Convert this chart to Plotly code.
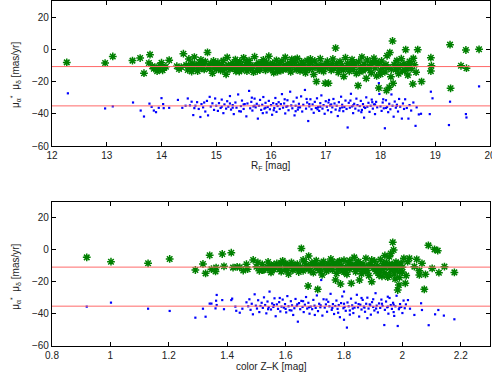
import plotly.graph_objects as go

# ---------------- data ----------------
# Top panel: proper motions vs R_F magnitude
top_green = [
    (12.27,-8.1),(12.97,-8.5),(13.11,-4.4),(13.47,-7.0),(13.61,-5.4),(13.68,-14.8),(13.79,-3.3),(13.77,-8.5),
    (13.83,-10.5),(13.86,-12.0),(13.9,-11.2),(13.92,-13.5),(13.95,-12.6),(13.97,-10.0),(14.0,-8.3),(14.02,-13.0),
    (14.05,-11.5),(14.08,-10.8),(14.14,-6.7),(14.28,-10.5),(14.32,-12.2),(14.36,-11.0),(14.4,-2.7),(14.45,-9.8),
    (14.48,-12.8),(14.5,-6.0),(14.53,-10.2),(14.56,-8.8),(14.58,-11.8),(14.6,-4.8),(14.63,-9.5),(14.66,-13.5),
    (14.68,-10.0),(14.7,-8.2),(14.73,-11.6),(14.76,-9.0),(14.78,-12.5),(14.8,-7.6),(14.84,-1.9),(14.86,-10.4),
    (14.88,-12.0),(14.9,-8.8),(14.93,-14.8),(14.96,-10.8),(14.98,-9.3),(15.0,-12.3),(15.03,-8.0),(15.05,-10.6),
    (15.08,-13.0),(15.1,-9.2),(15.13,-7.0),(15.15,-11.5),(15.18,-15.5),(15.2,-5.0),(15.22,-9.8),(15.25,-12.4),
    (15.28,-10.0),(15.3,-8.5),(15.33,-11.8),(15.36,-13.6),(15.38,-9.0),(15.4,-11.0),(15.43,-7.5),(15.46,-12.8),
    (15.48,-10.2),(15.5,-5.3),(15.53,-11.4),(15.56,-13.5),(15.58,-9.6),(15.6,-7.0),(15.63,-12.0),(15.66,-10.5),
    (15.68,-14.2),(15.7,-4.6),(15.73,-9.8),(15.76,-11.9),(15.78,-8.4),(15.8,-12.8),(15.83,-10.6),(15.86,-6.5),
    (15.88,-9.4),(15.9,-13.0),(15.93,-11.2),(15.96,-4.3),(15.98,-10.0),(16.0,-12.5),(16.03,-8.6),(16.05,-14.5),
    (16.08,-10.8),(16.1,-6.8),(16.13,-11.6),(16.15,-9.2),(16.18,-13.2),(16.2,-7.3),(16.23,-10.4),(16.26,-5.0),
    (16.28,-12.0),(16.3,-9.0),(16.33,-11.3),(16.36,-14.0),(16.38,-6.2),(16.4,-10.7),(16.43,-8.2),(16.46,-12.6),
    (16.48,-5.6),(16.5,-10.0),(16.53,-13.4),(16.56,-7.8),(16.58,-11.0),(16.6,-9.4),(16.63,-14.6),(16.66,-6.9),
    (16.68,-10.5),(16.7,-12.3),(16.73,-8.5),(16.76,-11.6),(16.78,-15.6),(16.8,-7.2),(16.83,-20.0),(16.86,-10.1),
    (16.88,-12.9),(16.9,-5.8),(16.93,-9.6),(16.96,-13.8),(16.99,-21.0),(17.0,-11.2),(17.03,-7.4),(17.05,-21.0),
    (17.08,-10.4),(17.1,-13.0),(17.13,-6.0),(17.15,-11.8),(17.18,0.8),(17.2,-9.0),(17.23,-14.4),(17.26,-7.6),
    (17.28,-12.1),(17.3,-10.0),(17.33,-16.8),(17.36,-5.2),(17.38,-11.4),(17.4,-8.7),(17.43,-13.6),(17.46,-9.8),
    (17.48,-6.4),(17.5,-12.7),(17.53,-10.3),(17.56,-15.0),(17.59,-22.5),(17.6,-7.8),(17.63,-11.0),(17.66,-4.8),
    (17.68,-13.2),(17.7,-9.2),(17.74,-18.0),(17.76,-6.6),(17.78,-12.0),(17.8,-10.5),(17.83,-14.6),(17.86,-8.0),
    (17.88,-5.5),(17.9,-11.6),(17.93,-16.5),(17.96,-9.0),(17.97,-24.0),(18.0,-12.8),(18.02,-7.2),(18.05,-10.6),
    (18.08,-14.0),(18.11,-25.6),(18.12,-4.0),(18.14,-11.3),(18.16,-23.5),(18.17,-2.0),(18.19,-17.0),(18.22,5.2),
    (18.23,-21.0),(18.25,-9.4),(18.28,-12.6),(18.3,-7.0),(18.33,-15.2),(18.36,-10.2),(18.38,-5.8),(18.4,-13.4),
    (18.43,-9.0),(18.46,-0.2),(18.48,-11.8),(18.5,-16.0),(18.53,-7.6),(18.56,-12.0),(18.59,-21.5),(18.62,-9.6),
    (18.65,-14.2),(18.68,-0.2),(18.75,-20.0),(18.92,-5.2),(18.93,-10.2),(18.92,-13.5),(19.27,2.9),(19.28,-24.2),
    (19.47,-10.2),(19.56,-0.4),(19.57,-11.7),(19.8,0.0),
    (14.55,-13.8),(14.72,-6.5),(14.95,-7.2),(15.12,-12.8),(15.35,-6.4),(15.55,-8.2),(15.75,-13.3),(15.92,-8.0),
    (16.12,-13.8),(16.35,-8.6),(16.52,-11.8),(16.72,-6.0),(16.92,-11.5),(17.12,-8.8),(17.32,-12.8),(17.52,-8.4),
    (17.72,-11.6),(17.92,-7.8),(18.1,-9.5),(18.32,-11.2),(18.52,-9.3),(18.6,-5.6),(18.45,-13.0),(18.2,-12.4),
    (18.0,-15.4),(17.82,-9.4),(17.62,-13.9),(17.42,-10.8),(17.22,-11.2),(17.02,-9.0),(16.82,-10.8),(16.62,-12.0),
    (16.42,-6.6),(16.22,-12.6),(16.02,-9.8),(15.82,-9.0),(15.62,-10.4),(15.42,-13.8),(15.22,-11.6),(15.02,-10.0),
]
top_blue = [
    (12.29,-27.3),(12.97,-36.7),(13.11,-35.4),(13.48,-33.0),(13.62,-38.0),(13.68,-41.7),(13.78,-33.7),(13.82,-35.7),
    (13.86,-38.0),(13.9,-39.0),(13.95,-36.3),(14.0,-30.3),(14.03,-34.0),(14.04,-36.5),(14.14,-36.3),(14.3,-31.4),
    (14.38,-36.3),(14.44,-35.0),(14.48,-30.5),(14.52,-34.8),(14.55,-32.5),(14.58,-40.8),(14.6,-36.5),(14.62,-35.0),
    (14.65,-32.8),(14.68,-37.0),(14.71,-42.0),(14.73,-34.0),(14.76,-36.0),(14.78,-33.0),(14.8,-38.6),(14.83,-32.0),
    (14.85,-41.0),(14.88,-29.5),(14.9,-35.5),(14.93,-33.5),(14.96,-37.6),(14.98,-30.5),(15.0,-35.0),(15.03,-38.2),
    (15.05,-33.4),(15.08,-36.4),(15.1,-31.2),(15.13,-39.6),(15.15,-34.2),(15.18,-36.8),(15.2,-32.2),(15.22,-35.6),
    (15.25,-29.0),(15.27,-37.4),(15.3,-34.6),(15.32,-40.2),(15.35,-33.0),(15.37,-36.2),(15.4,-28.0),(15.42,-38.4),
    (15.45,-35.2),(15.47,-31.8),(15.5,-37.0),(15.52,-34.0),(15.55,-41.6),(15.57,-33.6),(15.6,-25.8),(15.62,-36.6),
    (15.64,-32.6),(15.66,-38.0),(15.68,-35.4),(15.7,-30.6),(15.72,-36.0),(15.74,-33.8),(15.76,-43.0),(15.78,-35.0),
    (15.8,-31.4),(15.82,-37.6),(15.84,-34.4),(15.86,-29.6),(15.88,-36.8),(15.9,-33.2),(15.92,-39.2),(15.94,-35.8),
    (15.96,-32.0),(15.98,-37.2),(16.0,-34.6),(16.02,-40.6),(16.04,-33.4),(16.06,-36.4),(16.08,-30.2),(16.1,-38.8),
    (16.12,-35.2),(16.14,-32.8),(16.16,-37.0),(16.18,-34.0),(16.2,-27.8),(16.22,-36.2),(16.24,-33.6),(16.26,-39.8),
    (16.28,-35.6),(16.3,-31.6),(16.32,-37.8),(16.35,-26.3),(16.37,-34.8),(16.39,-36.6),(16.41,-32.4),(16.43,-41.0),
    (16.45,-35.0),(16.47,-30.0),(16.49,-37.4),(16.51,-33.8),(16.53,-36.0),(16.55,-29.2),(16.57,-38.6),(16.59,-34.4),
    (16.62,-25.2),(16.64,-36.8),(16.66,-33.0),(16.68,-44.5),(16.7,-35.4),(16.72,-31.0),(16.74,-37.2),(16.76,-34.2),
    (16.78,-39.4),(16.8,-32.6),(16.82,-36.4),(16.84,-30.4),(16.86,-35.8),(16.88,-38.2),(16.9,-33.4),(16.92,-28.6),
    (16.94,-36.8),(16.96,-34.6),(16.98,-40.0),(17.0,-32.2),(17.02,-35.6),(17.04,-37.8),(17.06,-31.4),(17.08,-34.8),
    (17.1,-39.0),(17.12,-36.0),(17.14,-30.8),(17.16,-33.6),(17.18,-37.4),(17.2,-35.0),(17.22,-41.4),(17.24,-32.8),
    (17.26,-36.6),(17.28,-29.4),(17.3,-34.4),(17.32,-38.4),(17.34,-35.8),(17.36,-31.8),(17.38,-37.0),(17.4,-48.5),
    (17.42,-33.2),(17.44,-36.2),(17.46,-27.6),(17.48,-35.4),(17.5,-39.6),(17.52,-33.8),(17.54,-36.8),(17.56,-30.6),
    (17.58,-34.6),(17.6,-38.0),(17.62,-35.2),(17.64,-32.0),(17.66,-37.6),(17.68,-34.0),(17.7,-42.4),(17.72,-36.4),
    (17.74,-29.8),(17.76,-35.6),(17.78,-33.2),(17.8,-38.8),(17.82,-35.0),(17.84,-31.2),(17.86,-36.8),(17.88,-34.2),
    (17.9,-40.2),(17.92,-32.6),(17.94,-36.0),(17.97,-21.0),(17.98,-27.7),(18.0,-35.4),(18.02,-38.2),(18.04,-33.0),
    (18.06,-36.6),(18.08,-49.0),(18.1,-31.6),(18.12,-35.8),(18.14,-39.0),(18.16,-33.8),(18.18,-37.2),(18.2,-28.0),
    (18.22,-35.0),(18.24,-41.8),(18.26,-32.4),(18.28,-36.2),(18.3,-34.4),(18.32,-38.6),(18.34,-30.8),(18.36,-35.6),
    (18.39,-43.0),(18.41,-33.6),(18.43,-37.0),(18.45,-31.0),(18.48,-36.4),(18.51,-43.0),(18.53,-34.6),(18.56,-38.0),
    (18.6,-33.0),(18.64,-47.5),(18.66,-36.0),(18.7,-40.4),(18.74,-40.0),(18.9,-40.2),(18.92,-26.3),(18.95,-30.4),
    (19.25,-47.0),(19.27,-32.5),(19.56,-40.2),(19.57,-42.3),(19.8,-23.0),
    (15.1,-35.6),(15.3,-36.2),(15.5,-34.2),(15.7,-35.0),(15.9,-36.2),(16.1,-34.0),(16.3,-35.2),(16.5,-36.0),
    (16.7,-34.0),(16.9,-35.6),(17.1,-34.2),(17.3,-36.0),(17.5,-34.8),(17.7,-35.8),(17.9,-34.2),(18.1,-36.4),
    (18.3,-35.0),(16.05,-37.8),(16.25,-31.0),(16.45,-38.4),(16.65,-30.8),(16.85,-37.2),(17.05,-33.0),(17.25,-38.0),
    (17.45,-31.8),(17.65,-39.0),(17.85,-32.8),(18.05,-31.0),(15.85,-39.6),(15.65,-30.0),(15.45,-38.6),(15.25,-33.6),
]

# Bottom panel: proper motions vs Z-K colour
bot_green = [
    (0.919,-4.6),(1.002,-7.3),(1.129,-8.3),(1.203,-5.6),(1.291,-12.5),(1.317,-8.75),(1.326,-14.6),(1.34,-3.3),
    (1.346,-12.0),(1.36,-13.4),(1.362,-11.0),(1.383,-2.5),(1.389,-10.2),(1.414,-1.7),(1.42,-11.0),(1.434,-10.5),
    (1.443,-10.8),(1.455,-12.8),(1.466,-8.9),(1.47,-12.0),(1.489,-6.2),(1.50,-10.5),(1.51,-13.0),(1.52,-9.0),
    (1.53,-11.6),(1.54,-7.5),(1.55,-14.0),(1.555,-10.0),(1.56,-12.2),(1.57,-8.4),(1.58,-10.8),(1.585,-13.5),
    (1.59,-6.8),(1.60,-11.2),(1.605,-9.4),(1.61,-15.0),(1.62,-7.8),(1.625,-12.6),(1.63,-10.2),(1.64,-8.8),
    (1.645,-13.8),(1.65,-10.6),(1.654,1.0),(1.66,-6.2),(1.665,-12.0),(1.67,-9.6),(1.677,-22.5),(1.679,-3.8),
    (1.68,-11.4),(1.69,-8.0),(1.695,-14.2),(1.70,-10.0),(1.705,-6.6),(1.71,-24.6),(1.715,-12.8),(1.72,-9.2),
    (1.725,-15.6),(1.73,-7.2),(1.735,-11.0),(1.74,-13.2),(1.745,-8.6),(1.75,-10.4),(1.755,-5.6),(1.76,-12.4),
    (1.765,-9.0),(1.771,-18.75),(1.775,-14.6),(1.78,-7.6),(1.785,-11.8),(1.788,-21.25),(1.79,-9.8),(1.795,-13.0),
    (1.80,-6.4),(1.805,-10.8),(1.81,-15.2),(1.815,-8.2),(1.82,-12.0),(1.825,-20.8),(1.83,-9.4),(1.835,-4.6),
    (1.84,-13.6),(1.845,-10.2),(1.85,-7.4),(1.853,-18.75),(1.855,-11.6),(1.86,-14.8),(1.865,-8.8),(1.87,-10.6),
    (1.875,-5.2),(1.88,-12.8),(1.885,-16.0),(1.89,-9.2),(1.895,-19.8),(1.90,-11.2),(1.905,-7.0),(1.91,-13.4),
    (1.915,-9.8),(1.92,-15.8),(1.925,-6.0),(1.93,-11.8),(1.935,-8.4),(1.94,-14.2),(1.945,-10.4),(1.95,-17.0),
    (1.955,-4.2),(1.96,-12.4),(1.965,-9.0),(1.967,4.8),(1.97,0.0),(1.972,-15.0),(1.975,-18.1),(1.978,-7.6),
    (1.98,-11.4),(1.984,-25.0),(1.988,-21.9),(1.99,-13.6),(1.995,-8.2),(2.0,-10.8),(2.005,-5.2),(2.01,-20.8),
    (2.013,-16.0),(2.018,-7.3),(2.024,-5.2),(2.041,-10.4),(2.049,-5.8),(2.058,-15.6),(2.058,-12.9),(2.067,-8.3),
    (2.075,-24.6),(2.079,-15.2),(2.089,2.9),(2.102,-11.5),(2.11,0.4),(2.121,-0.4),(2.125,-14.2),(2.144,-10.4),
    (2.178,-14.0),
    (1.505,-7.8),(1.525,-12.4),(1.545,-9.6),(1.565,-11.0),(1.585,-8.0),(1.605,-12.8),(1.625,-9.8),(1.645,-11.6),
    (1.665,-7.4),(1.685,-13.0),(1.705,-10.8),(1.725,-8.2),(1.745,-12.0),(1.765,-10.0),(1.785,-7.0),(1.805,-12.6),
    (1.825,-10.0),(1.845,-7.8),(1.865,-12.0),(1.885,-9.6),(1.905,-11.0),(1.925,-13.0),(1.945,-7.8),(1.965,-11.0),
    (1.985,-9.6),(2.0,-13.8),(1.875,-13.6),(1.895,-6.2),(1.915,-12.2),(1.935,-10.6),(1.955,-9.0),(1.975,-12.6),
    (1.86,-10.2),(1.84,-11.2),(1.82,-6.6),(1.80,-13.8),(1.78,-11.0),(1.76,-7.2),(1.74,-10.6),(1.72,-12.2),
    (1.70,-8.4),(1.68,-10.2),(1.66,-13.0),(1.64,-11.2),(1.62,-10.4),(1.60,-8.4),(1.58,-12.0),(1.56,-9.2),
    (1.54,-11.6),(1.52,-12.6),(1.955,-15.8),(1.99,-17.2),(1.93,-16.4),(1.96,-2.2),(1.94,-3.4),
]
bot_blue = [
    (0.919,-35.4),(1.002,-32.9),(1.129,-36.7),(1.203,-38.1),(1.291,-42.3),(1.317,-36.7),(1.326,-41.7),(1.34,-33.5),
    (1.346,-33.5),(1.36,-36.5),(1.362,-31.7),(1.364,-28.1),(1.364,-34.4),(1.383,-31.3),(1.389,-37.0),(1.414,-31.3),
    (1.417,-30.4),(1.428,-35.4),(1.431,-38.0),(1.443,-39.2),(1.452,-36.7),(1.466,-32.7),
    (1.472,-35.2),(1.476,-30.8),(1.48,-37.4),(1.484,-33.6),(1.488,-40.2),(1.494,-27.7),(1.498,-34.8),(1.502,-36.6),
    (1.506,-31.4),(1.51,-38.8),(1.514,-35.0),(1.518,-33.0),(1.522,-36.2),(1.526,-29.6),(1.53,-34.4),(1.534,-39.6),
    (1.538,-32.2),(1.542,-35.8),(1.545,-26.0),(1.55,-37.2),(1.554,-33.4),(1.558,-35.6),(1.562,-30.2),(1.566,-41.4),
    (1.57,-34.0),(1.574,-36.8),(1.578,-32.6),(1.582,-38.4),(1.586,-35.4),(1.59,-31.0),(1.594,-36.0),(1.598,-33.8),
    (1.602,-39.0),(1.606,-28.8),(1.61,-35.2),(1.614,-37.6),(1.618,-32.0),(1.622,-34.6),(1.626,-40.6),(1.63,-36.4),
    (1.634,-30.6),(1.638,-35.0),(1.642,-44.8),(1.646,-33.2),(1.65,-37.0),(1.654,-31.8),(1.658,-35.6),(1.662,-38.8),
    (1.666,-34.2),(1.67,-29.4),(1.674,-36.6),(1.678,-33.0),(1.682,-39.8),(1.686,-35.4),(1.691,-37.0),(1.695,-31.2),
    (1.699,-34.8),(1.703,-36.2),(1.707,-28.4),(1.711,-38.2),(1.715,-33.6),(1.719,-35.8),(1.722,-18.75),(1.726,-41.0),
    (1.73,-30.8),(1.734,-36.0),(1.738,-34.0),(1.742,-38.6),(1.746,-32.4),(1.75,-35.2),(1.754,-27.4),(1.758,-37.4),
    (1.762,-33.8),(1.766,-40.0),(1.77,-35.0),(1.774,-31.6),(1.778,-36.8),(1.782,-34.4),(1.786,-42.0),(1.79,-33.2),
    (1.794,-29.0),(1.798,-36.4),(1.8,-26.0),(1.802,-35.6),(1.806,-38.0),(1.81,-48.5),(1.812,-32.8),(1.816,-35.2),
    (1.82,-37.8),(1.824,-30.4),(1.828,-34.6),(1.832,-39.4),(1.836,-36.0),(1.84,-33.0),(1.844,-28.0),(1.848,-35.8),
    (1.852,-41.6),(1.856,-34.2),(1.86,-37.2),(1.864,-31.2),(1.868,-35.4),(1.872,-38.6),(1.876,-33.6),(1.88,-29.8),
    (1.884,-36.6),(1.888,-34.0),(1.892,-40.4),(1.896,-32.6),(1.9,-35.6),(1.904,-37.8),(1.908,-27.0),(1.912,-34.8),
    (1.916,-39.0),(1.92,-33.4),(1.924,-36.2),(1.928,-31.0),(1.932,-35.0),(1.938,-46.9),(1.94,-37.4),(1.944,-32.2),
    (1.948,-35.8),(1.952,-39.8),(1.956,-30.0),(1.96,-34.4),(1.964,-36.8),(1.968,-33.0),(1.972,-41.2),(1.976,-35.2),
    (1.98,-28.6),(1.984,-47.5),(1.988,-37.0),(1.992,-33.8),(1.996,-35.6),(2.0,-39.4),(2.004,-31.6),(2.008,-36.4),
    (2.012,-34.0),(2.019,-31.3),(2.026,-36.7),(2.041,-40.6),(2.064,-33.3),(2.067,-37.5),(2.09,-47.0),(2.112,-40.2),
    (2.123,-37.5),(2.142,-41.0),(2.178,-43.3),
    (1.56,-34.4),(1.6,-36.8),(1.64,-34.0),(1.68,-35.8),(1.72,-34.6),(1.76,-36.2),(1.8,-33.6),(1.83,-36.6),
    (1.85,-33.8),(1.87,-36.0),(1.89,-34.6),(1.91,-36.6),(1.93,-33.6),(1.95,-35.4),(1.97,-34.2),(1.99,-36.0),
    (1.86,-30.0),(1.9,-30.8),(1.82,-40.4),(1.78,-39.2),(1.74,-31.0),(1.7,-40.6),(1.66,-32.0),(1.62,-37.8),
    (1.58,-30.0),(1.54,-37.0),(1.95,-29.2),(1.97,-38.8),(1.88,-42.6),(1.8,-43.6),
]

# mean proper motions (horizontal reference lines)
mean_mu_alpha = -10.7
mean_mu_delta = -35.1

top_xrange = [12, 20]
top_xticks = [12, 13, 14, 15, 16, 17, 18, 19, 20]
bot_xrange = [0.8, 2.3]
bot_xticks = [0.8, 1.0, 1.2, 1.4, 1.6, 1.8, 2.0, 2.2]
bot_xticklabels = ["0.8", "1", "1.2", "1.4", "1.6", "1.8", "2", "2.2"]
yrange = [-60, 30]
yticks = [-60, -40, -20, 0, 20]

top_xlabel = "R<sub>F</sub> [mag]"
bot_xlabel = "color Z\u2013K [mag]"
ylabel = "\u03bc<sub>\u03b1</sub><sup>*</sup>  \u03bc<sub>\u03b4</sub> [mas/yr]"

# ---------------- figure ----------------
GREEN = "rgb(0,128,0)"
BLUE = "rgb(0,0,255)"
LINE = "rgb(255,105,105)"
FONT = "Liberation Sans, Arial, Helvetica, sans-serif"

fig = go.Figure()

def add_panel(green, blue, xr, xa, ya):
    fig.add_trace(go.Scatter(
        x=[p[0] for p in blue], y=[p[1] for p in blue], mode="markers",
        marker=dict(symbol="square", size=2.2, color=BLUE, line=dict(width=0)),
        xaxis=xa, yaxis=ya, showlegend=False, hoverinfo="skip"))
    fig.add_trace(go.Scatter(
        x=[p[0] for p in green], y=[p[1] for p in green], mode="markers",
        marker=dict(symbol="asterisk-open", size=6.5, color=GREEN,
                    line=dict(width=1.5, color=GREEN)),
        xaxis=xa, yaxis=ya, showlegend=False, hoverinfo="skip"))
    for yv in (mean_mu_alpha, mean_mu_delta):
        fig.add_trace(go.Scatter(
            x=xr, y=[yv, yv], mode="lines", line=dict(color=LINE, width=1),
            xaxis=xa, yaxis=ya, showlegend=False, hoverinfo="skip"))

add_panel(top_green, top_blue, top_xrange, "x", "y")
add_panel(bot_green, bot_blue, bot_xrange, "x2", "y2")

axis_common = dict(
    showline=True, linecolor="black", linewidth=1.3, mirror="ticks",
    ticks="inside", ticklen=4, tickwidth=1, tickcolor="black",
    showgrid=False, zeroline=False, automargin=False, ticklabeloverflow="allow",
    tickfont=dict(family=FONT, size=10, color="#222"),
)

fig.update_layout(
    width=492, height=380,
    margin=dict(l=52, r=2, t=1, b=34, autoexpand=False),
    paper_bgcolor="white", plot_bgcolor="white",
    font=dict(family=FONT, size=10, color="#222"),
    xaxis=dict(domain=[0, 1], anchor="y", range=top_xrange, tickvals=top_xticks, **axis_common),
    yaxis=dict(domain=[0.5797, 1.0], anchor="x", range=yrange, tickvals=yticks, **axis_common),
    xaxis2=dict(domain=[0, 1], anchor="y2", range=bot_xrange, tickvals=bot_xticks,
                ticktext=bot_xticklabels, **axis_common),
    yaxis2=dict(domain=[0.0, 0.4174], anchor="x2", range=yrange, tickvals=yticks, **axis_common),
    annotations=[
        dict(text=top_xlabel, xref="paper", yref="paper", x=0.5, y=0.522,
             showarrow=False, font=dict(family=FONT, size=10, color="#222"),
             xanchor="center", yanchor="middle"),
        dict(text=bot_xlabel, xref="paper", yref="paper", x=0.5, y=-0.06,
             showarrow=False, font=dict(family=FONT, size=10, color="#222"),
             xanchor="center", yanchor="middle"),
        dict(text=ylabel, xref="paper", yref="paper", x=-0.085, y=0.785,
             textangle=-90, showarrow=False, font=dict(family=FONT, size=10, color="#222"),
             xanchor="center", yanchor="middle"),
        dict(text=ylabel, xref="paper", yref="paper", x=-0.085, y=0.20,
             textangle=-90, showarrow=False, font=dict(family=FONT, size=10, color="#222"),
             xanchor="center", yanchor="middle"),
    ],
)

# remove the default 8px page margin so the figure sits at the window's top-left corner
fig.write_html("out.html", config={"displayModeBar": False},
               post_script="document.body.style.margin='0px';document.body.style.overflow='hidden';")
